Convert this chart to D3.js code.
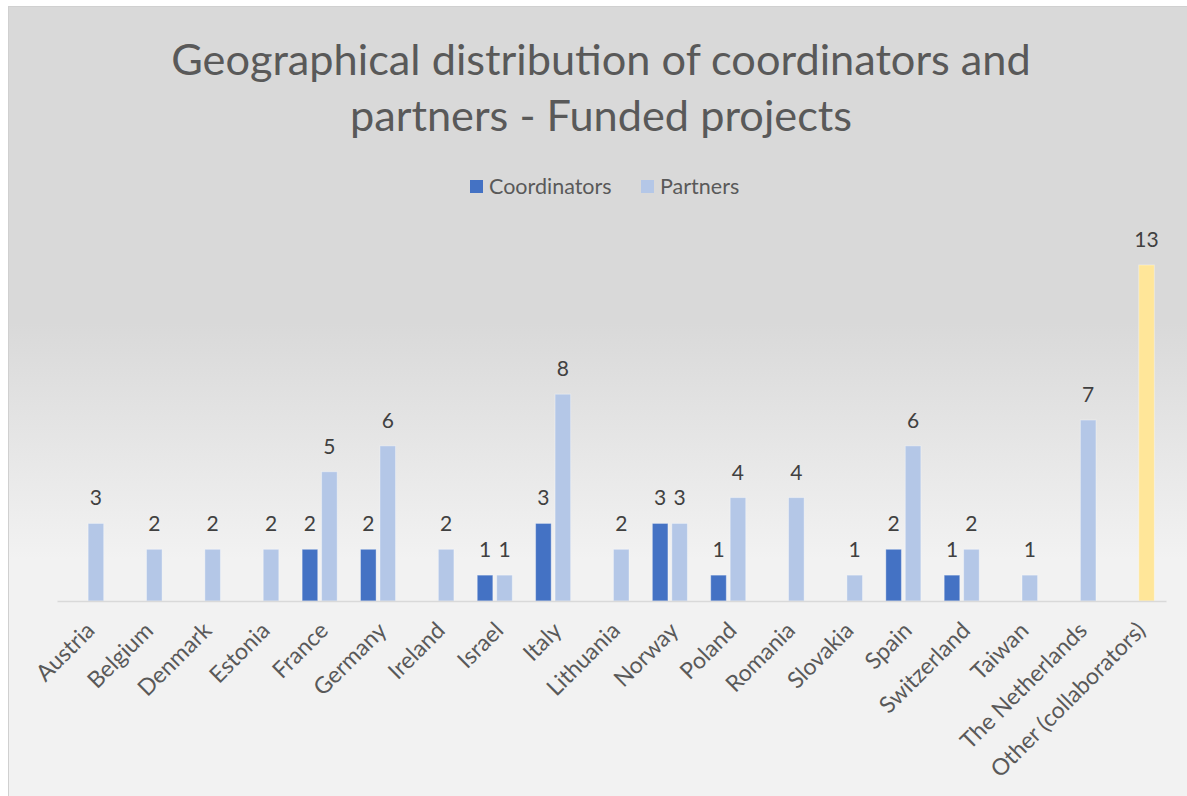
<!DOCTYPE html>
<html>
<head>
<meta charset="utf-8">
<script src="https://cdn.jsdelivr.net/npm/d3@7"></script>
<style>
html,body{margin:0;padding:0;background:#fff;}
svg{display:block;}
</style>
</head>
<body>
<svg id="chart" width="1187" height="796"></svg>
<script>
const categories = ["Austria","Belgium","Denmark","Estonia","France","Germany","Ireland","Israel","Italy","Lithuania","Norway","Poland","Romania","Slovakia","Spain","Switzerland","Taiwan","The Netherlands","Other (collaborators)"];
const coordinators = [0,0,0,0,2,2,0,1,3,0,3,1,0,0,2,1,0,0,0];
const partners = [3,2,2,2,5,6,2,1,8,2,3,4,4,1,6,2,1,7,13];
const seriesNames = ["Coordinators","Partners"];
const titleLines = ["Geographical distribution of coordinators and","partners - Funded projects"];
const yMax = 14;

const colors = {Coordinators:"#4472c4", Partners:"#b4c7e7", Other:"#ffe699"};
const font = "Lato, 'Open Sans', sans-serif";

const svg = d3.select("#chart");
const W = 1187, H = 796;

const defs = svg.append("defs");
const grad = defs.append("linearGradient").attr("id","bg").attr("x1",0).attr("y1",0).attr("x2",0).attr("y2",1);
grad.append("stop").attr("offset","0%").attr("stop-color","#d9d9d9");
grad.append("stop").attr("offset","40%").attr("stop-color","#d9d9d9");
grad.append("stop").attr("offset","70%").attr("stop-color","#f2f2f2");
grad.append("stop").attr("offset","100%").attr("stop-color","#f2f2f2");

svg.append("rect").attr("x",8.5).attr("y",6.5).attr("width",W-8).attr("height",H-6)
  .attr("fill","url(#bg)").attr("stroke","#d0d0d0").attr("stroke-width",1);

// title
const title = svg.append("text").attr("text-anchor","middle").attr("font-family",font)
  .attr("font-size",43.3).attr("fill","#595959");
titleLines.forEach((t,i)=>{
  title.append("tspan").attr("x",601).attr("y",75 + i*56).text(t);
});

// legend
const legend = svg.append("g").attr("font-family",font).attr("font-size",21.5).attr("fill","#595959");
const legendItems = [{name:"Coordinators", x:470},{name:"Partners", x:641}];
legendItems.forEach(d=>{
  legend.append("rect").attr("x",d.x).attr("y",180).attr("width",13).attr("height",13).attr("fill",colors[d.name]);
  legend.append("text").attr("x",d.x+19).attr("y",194).text(d.name);
});

// scales
const x0 = d3.scaleBand().domain(categories).range([57,1166]).paddingInner(0).paddingOuter(0);
const bw = x0.bandwidth();
const x1 = d3.scaleBand().domain(seriesNames).range([bw*0.2, bw*0.8]).paddingInner(0.2).paddingOuter(0);
const y = d3.scaleLinear().domain([0,yMax]).range([601, 601 - yMax*25.85]);

const data = categories.map((c,i)=>({cat:c, values:[
  {series:"Coordinators", v:coordinators[i], other:false},
  {series:"Partners", v:partners[i], other: c.startsWith("Other")}
]}));

const groups = svg.append("g").selectAll("g").data(data).join("g")
  .attr("transform", d=>`translate(${x0(d.cat)},0)`);

groups.selectAll("rect").data(d=>d.values.filter(v=>v.v>0)).join("rect")
  .attr("x", d=>x1(d.series))
  .attr("width", x1.bandwidth())
  .attr("y", d=>y(d.v))
  .attr("height", d=>y(0)-y(d.v))
  .attr("fill", d=>d.other ? colors.Other : colors[d.series])
  .attr("stroke","#ffffff").attr("stroke-opacity",0.35).attr("stroke-width",1);

groups.selectAll("text").data(d=>d.values.filter(v=>v.v>0)).join("text")
  .attr("x", d=>x1(d.series)+x1.bandwidth()/2)
  .attr("y", d=>y(d.v)-18)
  .attr("text-anchor","middle")
  .attr("font-family",font).attr("font-size",21).attr("fill","#404040")
  .text(d=>d.v);

// x axis
const xAxis = d3.axisBottom(x0).tickSize(0).tickSizeOuter(0);
const ax = svg.append("g").attr("transform","translate(0,601)").call(xAxis);
ax.attr("font-family",font).attr("font-size",23);
ax.select(".domain").attr("stroke","#d9d9d9").attr("stroke-width",1.5);
ax.selectAll(".tick text")
  .attr("font-family",font).attr("font-size",23).attr("fill","#595959")
  .attr("text-anchor","end")
  .attr("dy",null).attr("y",0)
  .attr("transform","translate(10,31) rotate(-45)");
</script>
</body>
</html>
